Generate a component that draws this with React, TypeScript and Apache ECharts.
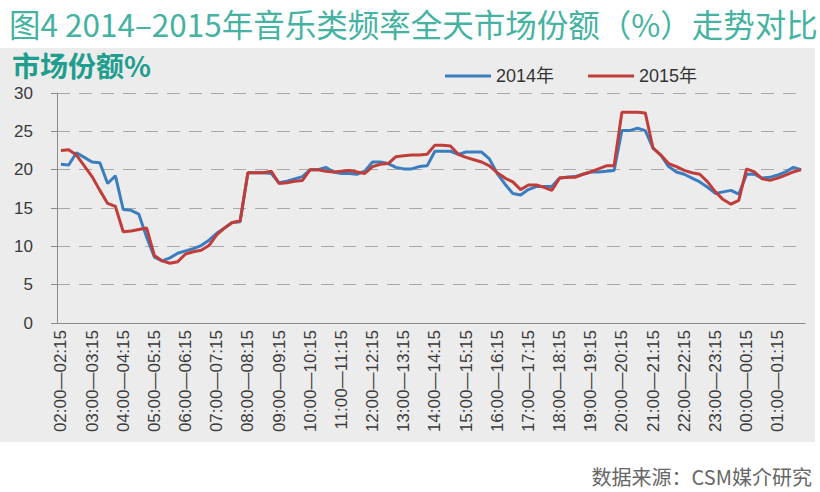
import React, { useEffect, useRef } from "react";
import * as echarts from "echarts";

const startHours = [2, 3, 4, 5, 6, 7, 8, 9, 10, 11, 12, 13, 14, 15, 16, 17, 18, 19, 20, 21, 22, 23, 0, 1];
const quarterStarts = ["00", "15", "30", "45"];
const quarterEnds = ["15", "30", "45", "00"];
const pad = (n: number) => (n < 10 ? "0" + n : "" + n);
const categories: string[] = [];
startHours.forEach((h) => {
  quarterStarts.forEach((m, q) => {
    const endH = q === 3 ? (h + 1) % 24 : h;
    categories.push(`${pad(h)}:${m}—${pad(endH)}:${quarterEnds[q]}`);
  });
});

const series2014 = [
  20.7, 20.6, 22.2, 21.6, 21.0, 20.9, 18.2, 19.2, 14.8, 14.7, 14.2, 11.2,
  8.6, 8.1, 8.5, 9.1, 9.4, 9.7, 10.1, 10.8, 11.7, 12.4, 13.1, 13.2,
  19.6, 19.6, 19.6, 19.5, 18.3, 18.5, 18.8, 19.1, 20.0, 20.0, 20.3, 19.7,
  19.5, 19.5, 19.4, 19.8, 21.0, 21.0, 20.8, 20.3, 20.1, 20.1, 20.4, 20.5,
  22.4, 22.4, 22.4, 22.0, 22.3, 22.3, 22.3, 21.4, 19.5, 18.1, 16.9, 16.7,
  17.4, 17.8, 17.8, 17.8, 18.9, 19.0, 19.1, 19.4, 19.7, 19.7, 19.8, 19.9,
  25.1, 25.1, 25.4, 25.1, 22.8, 21.9, 20.4, 19.7, 19.4, 18.9, 18.4, 17.7,
  16.9, 17.1, 17.3, 16.8, 19.4, 19.4, 18.9, 19.0, 19.3, 19.7, 20.3, 20.0,
];

const series2015 = [
  22.5, 22.6, 21.9, 20.5, 19.1, 17.3, 15.6, 15.2, 11.9, 12.0, 12.2, 12.4,
  8.8, 8.1, 7.8, 8.0, 9.0, 9.3, 9.5, 10.1, 11.5, 12.4, 13.1, 13.3,
  19.6, 19.6, 19.6, 19.8, 18.2, 18.3, 18.5, 18.6, 20.0, 20.0, 19.8, 19.7,
  19.8, 19.9, 19.7, 19.5, 20.4, 20.7, 20.8, 21.7, 21.8, 21.9, 21.9, 22.0,
  23.2, 23.2, 23.1, 22.0, 21.6, 21.3, 21.0, 20.5, 19.6, 18.9, 18.4, 17.4,
  18.0, 18.0, 17.7, 17.3, 18.9, 19.0, 19.0, 19.4, 19.7, 20.1, 20.5, 20.5,
  27.5, 27.5, 27.5, 27.4, 22.8, 21.9, 20.8, 20.4, 19.9, 19.6, 19.4, 18.4,
  17.1, 16.1, 15.5, 16.0, 20.1, 19.7, 18.8, 18.6, 18.9, 19.3, 19.7, 20.0,
];

const seriesNames = ["2014年", "2015年"];
const titleText = "图4 2014–2015年音乐类频率全天市场份额（%）走势对比";
const unitText = "市场份额%";
const sourceText = "数据来源：CSM媒介研究";

export default function App() {
  const ref = useRef<HTMLDivElement>(null);
  useEffect(() => {
    document.body.style.margin = "0";
    if (!ref.current) return;
    const chart = echarts.init(ref.current, null, { renderer: "svg" });
    const cjk = "'Noto Sans CJK SC', 'Noto Sans', sans-serif";
    const latin = "'Liberation Sans', Arial, 'Noto Sans CJK SC', sans-serif";
    chart.setOption({
      animation: false,
      backgroundColor: "#ffffff",
      title: {
        text: titleText,
        left: 4,
        top: 2,
        textStyle: { fontSize: 31.5, fontWeight: "normal", color: "#45b2a2", fontFamily: cjk },
      },
      legend: {
        data: seriesNames,
        left: 440,
        top: 62,
        icon: "rect",
        itemWidth: 46,
        itemHeight: 3,
        itemGap: 34,
        textStyle: { fontSize: 18, color: "#333", fontFamily: latin },
      },
      graphic: [
        {
          type: "rect",
          z: -10,
          silent: true,
          shape: { x: 0, y: 48, width: 815, height: 394 },
          style: { fill: "#ececec" },
        },
        {
          type: "text",
          left: 12,
          top: 51,
          style: { text: unitText, fontSize: 28, fontWeight: "bold", fill: "#1f9e8e", fontFamily: cjk },
        },
        {
          type: "text",
          right: 8,
          top: 466,
          style: { text: sourceText, fontSize: 20, fill: "#666", fontFamily: cjk },
        },
      ],
      grid: { left: 57, right: 15, top: 93, bottom: 169, outerBoundsMode: "none" },
      xAxis: {
        type: "category",
        data: categories,
        boundaryGap: true,
        axisLine: { lineStyle: { color: "#8a8a8a", width: 1 } },
        axisTick: { interval: 0, length: 4, lineStyle: { color: "#8a8a8a" } },
        axisLabel: {
          interval: 3,
          rotate: 90,
          margin: 7,
          fontSize: 17,
          color: "#3a3a3a",
          fontFamily: latin,
        },
      },
      yAxis: {
        type: "value",
        min: 0,
        max: 30,
        interval: 5,
        axisLine: { show: true, lineStyle: { color: "#8a8a8a" } },
        axisTick: { show: true, length: 6, lineStyle: { color: "#8a8a8a" } },
        axisLabel: { fontSize: 17, color: "#3a3a3a", margin: 24, fontFamily: latin },
        splitLine: { lineStyle: { color: "#a8a8a8", type: [13, 9], width: 1 } },
      },
      series: [
        {
          name: seriesNames[0],
          type: "line",
          data: series2014,
          symbol: "none",
          color: "#3b7ec0",
          lineStyle: { width: 3, color: "#3b7ec0" },
        },
        {
          name: seriesNames[1],
          type: "line",
          data: series2015,
          symbol: "none",
          color: "#c03d3a",
          lineStyle: { width: 3, color: "#c03d3a" },
        },
      ],
    });
    return () => chart.dispose();
  }, []);
  return <div ref={ref} style={{ width: 820, height: 492 }} />;
}
